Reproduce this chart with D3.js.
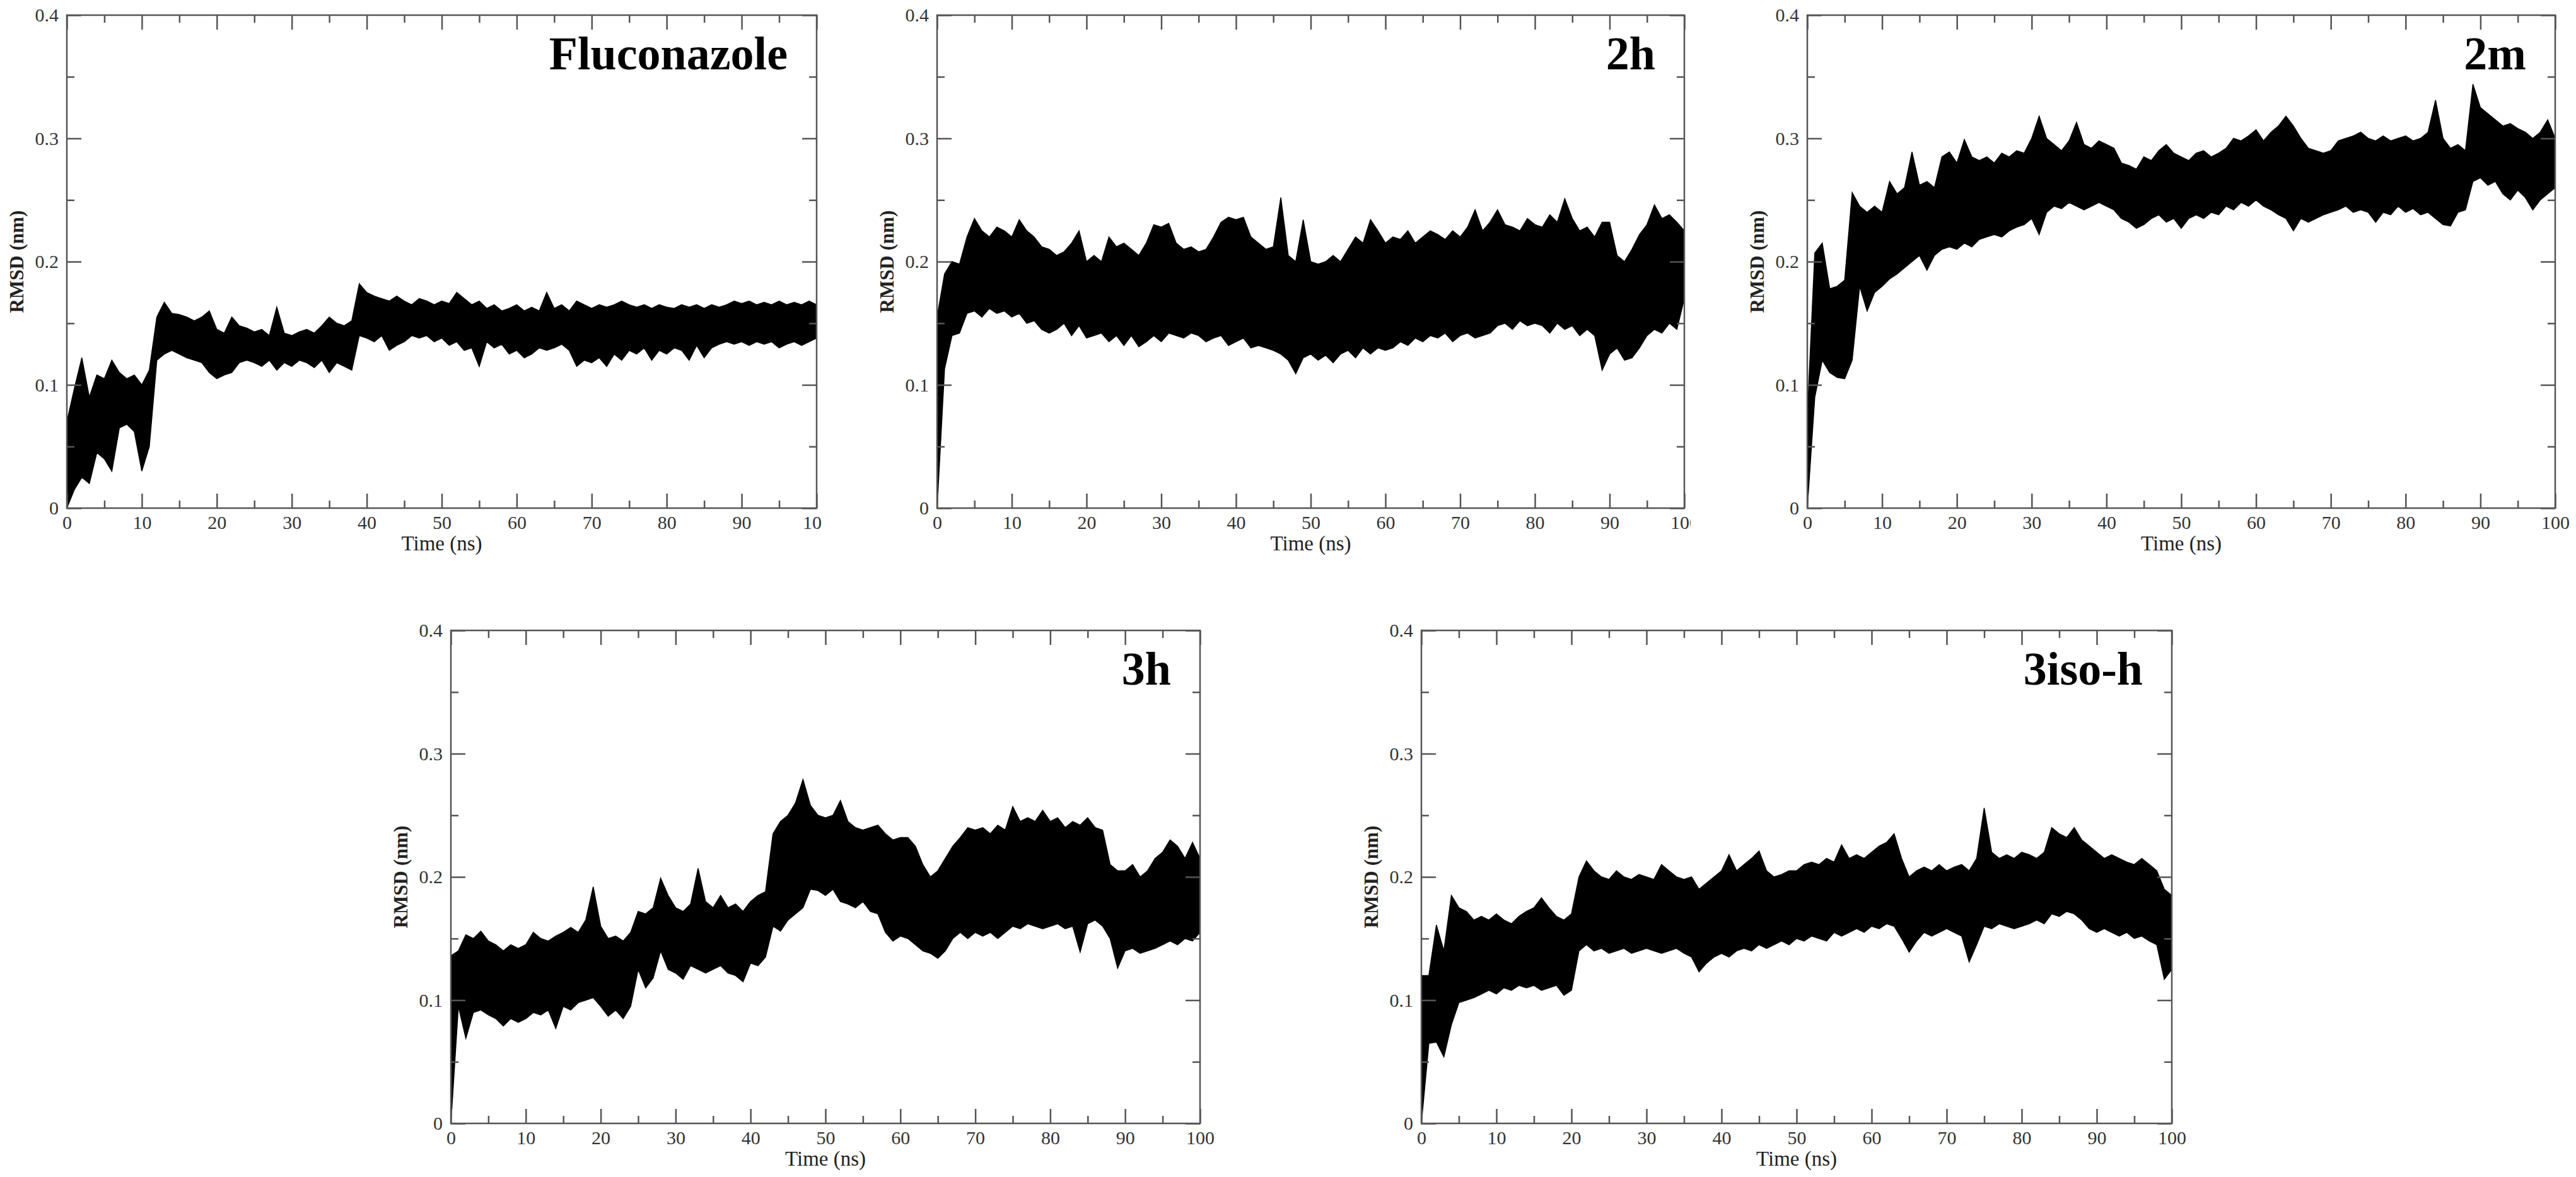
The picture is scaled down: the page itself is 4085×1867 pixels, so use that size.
<!DOCTYPE html>
<html lang='en'>
<head>
  <meta charset='UTF-8'>
  <title>RMSD vs Time</title>
  <style>
  body { margin: 0; background: #fff; }
  svg { display: block; }
  .tick line, .frame { stroke: #555; stroke-width: 2.5; }
  .tick text { font-family: 'Liberation Serif', serif; font-size: 30px; fill: #333; }
  .xlabel, .ylabel { font-family: 'Liberation Serif', serif; fill: #222; }
  .xlabel { font-size: 33px; }
  .ylabel { font-size: 31px; font-weight: bold; }
  .title { font-family: 'Liberation Serif', serif; font-size: 74px; font-weight: bold; fill: #000; }
  </style>
  <script src='https://d3js.org/d3.v7.min.js'></script>
</head>
<body>
  <script>

  // envelope of each RMSD trace, one value per ns (t = 0 .. 100)

  var flucLo = [0, 0.015, 0.025, 0.02, 0.045, 0.04, 0.03, 0.065, 0.068, 0.062,
    0.03, 0.05, 0.12, 0.125, 0.128, 0.125, 0.122, 0.12, 0.118, 0.11,
    0.105, 0.108, 0.11, 0.118, 0.12, 0.118, 0.115, 0.12, 0.112, 0.118,
    0.115, 0.12, 0.118, 0.114, 0.12, 0.11, 0.118, 0.115, 0.112, 0.14,
    0.138, 0.135, 0.14, 0.128, 0.132, 0.135, 0.14, 0.138, 0.14, 0.135,
    0.138, 0.132, 0.135, 0.128, 0.13, 0.115, 0.135, 0.13, 0.133, 0.125,
    0.128, 0.122, 0.125, 0.13, 0.128, 0.13, 0.133, 0.128, 0.115, 0.12,
    0.118, 0.122, 0.115, 0.125, 0.12, 0.128, 0.125, 0.13, 0.12, 0.128,
    0.125, 0.13, 0.128, 0.12, 0.132, 0.122, 0.13, 0.133, 0.135, 0.133,
    0.135, 0.132, 0.135, 0.133, 0.135, 0.13, 0.133, 0.135, 0.132, 0.135, 0.138];
  var flucHi = [0.07, 0.097, 0.122, 0.09, 0.108, 0.105, 0.12, 0.11, 0.105, 0.108,
    0.1, 0.112, 0.155, 0.167, 0.158, 0.157, 0.155, 0.152, 0.155, 0.16,
    0.145, 0.142, 0.155, 0.148, 0.146, 0.143, 0.145, 0.14, 0.163, 0.142,
    0.14, 0.143, 0.145, 0.142, 0.148, 0.155, 0.15, 0.148, 0.152, 0.182,
    0.175, 0.172, 0.17, 0.168, 0.172, 0.168, 0.165, 0.17, 0.168, 0.165,
    0.168, 0.166, 0.175, 0.17, 0.165, 0.168, 0.162, 0.165, 0.16, 0.162,
    0.165, 0.16, 0.163, 0.16, 0.175, 0.162, 0.165, 0.16, 0.168, 0.165,
    0.162, 0.165, 0.163, 0.165, 0.168, 0.165, 0.163, 0.165, 0.162, 0.165,
    0.163, 0.162, 0.165, 0.163, 0.165, 0.162, 0.165, 0.163, 0.165, 0.168,
    0.166, 0.168, 0.165, 0.167, 0.165, 0.168, 0.165, 0.167, 0.165, 0.168, 0.165];

  var c2hLo = [0, 0.113, 0.14, 0.142, 0.158, 0.16, 0.155, 0.162, 0.158, 0.16,
    0.155, 0.158, 0.15, 0.152, 0.145, 0.142, 0.145, 0.15, 0.14, 0.148,
    0.138, 0.14, 0.142, 0.135, 0.14, 0.132, 0.14, 0.131, 0.135, 0.14,
    0.135, 0.142, 0.14, 0.138, 0.142, 0.14, 0.135, 0.138, 0.14, 0.132,
    0.135, 0.138, 0.13, 0.132, 0.13, 0.128, 0.125, 0.12, 0.109, 0.122,
    0.125, 0.12, 0.124, 0.118, 0.125, 0.128, 0.122, 0.13, 0.125, 0.13,
    0.128, 0.13, 0.135, 0.132, 0.138, 0.135, 0.14, 0.138, 0.142, 0.135,
    0.14, 0.142, 0.138, 0.14, 0.142, 0.148, 0.15, 0.145, 0.152, 0.148,
    0.15, 0.148, 0.142, 0.15, 0.145, 0.148, 0.14, 0.145, 0.14, 0.112,
    0.125, 0.13, 0.12, 0.122, 0.13, 0.14, 0.145, 0.142, 0.15, 0.145, 0.17];
  var c2hHi = [0.155, 0.19, 0.2, 0.198, 0.22, 0.235, 0.225, 0.22, 0.228, 0.225,
    0.22, 0.234, 0.225, 0.22, 0.212, 0.21, 0.205, 0.208, 0.215, 0.225,
    0.2, 0.205, 0.2, 0.22, 0.212, 0.215, 0.21, 0.205, 0.215, 0.23,
    0.228, 0.231, 0.215, 0.21, 0.212, 0.208, 0.21, 0.22, 0.232, 0.236,
    0.234, 0.236, 0.22, 0.215, 0.21, 0.212, 0.252, 0.205, 0.2, 0.234,
    0.2, 0.198, 0.2, 0.205, 0.2, 0.21, 0.22, 0.215, 0.234, 0.225,
    0.215, 0.22, 0.218, 0.225, 0.215, 0.22, 0.225, 0.222, 0.218, 0.225,
    0.22, 0.228, 0.242, 0.225, 0.232, 0.242, 0.23, 0.228, 0.225, 0.235,
    0.23, 0.228, 0.238, 0.232, 0.251, 0.235, 0.225, 0.228, 0.22, 0.232,
    0.232, 0.205, 0.2, 0.21, 0.222, 0.23, 0.246, 0.235, 0.238, 0.232, 0.225];

  var c2mLo = [0, 0.09, 0.12, 0.11, 0.106, 0.105, 0.12, 0.18, 0.16, 0.175,
    0.18, 0.186, 0.19, 0.195, 0.2, 0.205, 0.193, 0.205, 0.21, 0.212,
    0.21, 0.215, 0.212, 0.218, 0.22, 0.222, 0.22, 0.225, 0.228, 0.23,
    0.235, 0.222, 0.24, 0.245, 0.243, 0.248, 0.245, 0.242, 0.245, 0.248,
    0.245, 0.242, 0.235, 0.232, 0.227, 0.23, 0.235, 0.238, 0.232, 0.235,
    0.227, 0.235, 0.238, 0.235, 0.24, 0.238, 0.245, 0.242, 0.248, 0.245,
    0.25, 0.245, 0.242, 0.238, 0.235, 0.225, 0.235, 0.232, 0.235, 0.238,
    0.24, 0.242, 0.245, 0.24, 0.242, 0.24, 0.232, 0.24, 0.238, 0.245,
    0.24, 0.243, 0.238, 0.24, 0.235, 0.23, 0.229, 0.24, 0.242, 0.265,
    0.268, 0.262, 0.265, 0.255, 0.25, 0.258, 0.252, 0.242, 0.25, 0.255, 0.26];
  var c2mHi = [0.074, 0.207, 0.215, 0.178, 0.18, 0.185, 0.256, 0.245, 0.24, 0.245,
    0.24, 0.265, 0.255, 0.26, 0.289, 0.262, 0.265, 0.26, 0.285, 0.289,
    0.28, 0.299, 0.285, 0.282, 0.285, 0.28, 0.288, 0.285, 0.29, 0.288,
    0.3, 0.318, 0.3, 0.295, 0.29, 0.298, 0.313, 0.295, 0.292, 0.298,
    0.295, 0.292, 0.28, 0.278, 0.275, 0.285, 0.282, 0.29, 0.295, 0.288,
    0.285, 0.282, 0.288, 0.29, 0.285, 0.288, 0.292, 0.3, 0.298, 0.302,
    0.307, 0.298, 0.305, 0.31, 0.318, 0.31, 0.3, 0.292, 0.29, 0.288,
    0.29, 0.298, 0.3, 0.302, 0.305, 0.3, 0.298, 0.302, 0.298, 0.3,
    0.302, 0.298, 0.3, 0.305, 0.331, 0.3, 0.292, 0.295, 0.29, 0.344,
    0.325, 0.32, 0.315, 0.31, 0.312, 0.308, 0.305, 0.3, 0.305, 0.315, 0.3];

  var c3hLo = [0, 0.095, 0.069, 0.09, 0.092, 0.088, 0.085, 0.079, 0.085, 0.082,
    0.085, 0.09, 0.088, 0.092, 0.077, 0.095, 0.092, 0.098, 0.1, 0.102,
    0.095, 0.087, 0.092, 0.085, 0.095, 0.125, 0.11, 0.118, 0.14, 0.125,
    0.122, 0.117, 0.128, 0.125, 0.122, 0.125, 0.128, 0.122, 0.12, 0.115,
    0.13, 0.128, 0.135, 0.16, 0.156, 0.165, 0.17, 0.175, 0.19, 0.189,
    0.185, 0.19, 0.18, 0.178, 0.175, 0.18, 0.172, 0.17, 0.155, 0.148,
    0.152, 0.15, 0.145, 0.14, 0.138, 0.134, 0.14, 0.15, 0.155, 0.15,
    0.155, 0.152, 0.155, 0.15, 0.155, 0.16, 0.158, 0.162, 0.16, 0.158,
    0.16, 0.162, 0.158, 0.16, 0.139, 0.162, 0.165, 0.16, 0.15, 0.126,
    0.14, 0.142, 0.138, 0.14, 0.142, 0.145, 0.148, 0.145, 0.15, 0.148, 0.155];
  var c3hHi = [0.136, 0.14, 0.153, 0.15, 0.156, 0.148, 0.145, 0.14, 0.145, 0.142,
    0.145, 0.155, 0.15, 0.148, 0.152, 0.155, 0.159, 0.155, 0.165, 0.192,
    0.16, 0.15, 0.152, 0.148, 0.155, 0.172, 0.17, 0.175, 0.199, 0.185,
    0.175, 0.172, 0.178, 0.207, 0.18, 0.175, 0.185, 0.175, 0.178, 0.172,
    0.18, 0.185, 0.188, 0.235, 0.245, 0.25, 0.26, 0.279, 0.258, 0.25,
    0.248, 0.25, 0.262, 0.245, 0.24, 0.238, 0.24, 0.242, 0.235, 0.23,
    0.232, 0.232, 0.225, 0.21, 0.2, 0.205, 0.215, 0.225, 0.232, 0.24,
    0.238, 0.24, 0.235, 0.242, 0.238, 0.257, 0.245, 0.248, 0.245, 0.254,
    0.245, 0.248, 0.24, 0.245, 0.242, 0.248, 0.24, 0.238, 0.21, 0.205,
    0.205, 0.21, 0.2, 0.205, 0.215, 0.22, 0.23, 0.225, 0.215, 0.228, 0.215];

  var c3isoLo = [0, 0.065, 0.066, 0.054, 0.08, 0.098, 0.1, 0.102, 0.105, 0.108,
    0.105, 0.11, 0.108, 0.112, 0.11, 0.112, 0.108, 0.11, 0.112, 0.104,
    0.108, 0.14, 0.145, 0.14, 0.142, 0.138, 0.14, 0.142, 0.138, 0.14,
    0.142, 0.14, 0.138, 0.14, 0.142, 0.138, 0.135, 0.123, 0.13, 0.135,
    0.138, 0.135, 0.14, 0.142, 0.14, 0.145, 0.142, 0.145, 0.148, 0.145,
    0.15, 0.148, 0.152, 0.15, 0.148, 0.155, 0.152, 0.155, 0.158, 0.155,
    0.16, 0.158, 0.162, 0.16, 0.15, 0.139, 0.148, 0.155, 0.152, 0.155,
    0.158, 0.155, 0.152, 0.131, 0.145, 0.16, 0.158, 0.162, 0.16, 0.158,
    0.16, 0.162, 0.165, 0.162, 0.17, 0.168, 0.172, 0.17, 0.165, 0.158,
    0.155, 0.158, 0.155, 0.152, 0.155, 0.15, 0.152, 0.148, 0.145, 0.117, 0.125];
  var c3isoHi = [0.12, 0.12, 0.161, 0.14, 0.185, 0.175, 0.172, 0.165, 0.168, 0.165,
    0.17, 0.165, 0.162, 0.168, 0.172, 0.175, 0.183, 0.175, 0.168, 0.165,
    0.17, 0.2, 0.213, 0.205, 0.2, 0.198, 0.205, 0.2, 0.198, 0.202,
    0.2, 0.198, 0.21, 0.205, 0.2, 0.198, 0.2, 0.19, 0.195, 0.2,
    0.205, 0.218, 0.205, 0.21, 0.215, 0.221, 0.205, 0.2, 0.202, 0.205,
    0.205, 0.21, 0.212, 0.21, 0.215, 0.212, 0.226, 0.215, 0.218, 0.215,
    0.22, 0.225, 0.228, 0.235, 0.215, 0.2, 0.205, 0.208, 0.205, 0.21,
    0.205, 0.208, 0.21, 0.205, 0.215, 0.256, 0.22, 0.215, 0.218, 0.215,
    0.22, 0.218, 0.215, 0.22, 0.24, 0.235, 0.232, 0.24, 0.23, 0.225,
    0.22, 0.215, 0.218, 0.215, 0.212, 0.21, 0.215, 0.21, 0.205, 0.19, 0.185];

  var names = ['Fluconazole', '2h', '2m', '3h', '3iso-h'];
  var xMajor = [0, 10, 20, 30, 40, 50, 60, 70, 80, 90, 100];
  var xMinor = [5, 15, 25, 35, 45, 55, 65, 75, 85, 95];
  var yMajor = [0, 0.1, 0.2, 0.3, 0.4];
  var yMinor = [0.05, 0.15, 0.25, 0.35];

  // panel boxes in page pixels (clip = where the original panel image was cut)

  var panels = [
    { name: names[0], lo: flucLo, hi: flucHi, left: 106, right: 1295, top: 24, bottom: 806, clip: 1303 },
    { name: names[1], lo: c2hLo, hi: c2hHi, left: 1486, right: 2671, top: 24, bottom: 806, clip: 2681 },
    { name: names[2], lo: c2mLo, hi: c2mHi, left: 2866, right: 4052, top: 24, bottom: 806, clip: 4085 },
    { name: names[3], lo: c3hLo, hi: c3hHi, left: 715, right: 1903, top: 1000, bottom: 1782, clip: 2100 },
    { name: names[4], lo: c3isoLo, hi: c3isoHi, left: 2254, right: 3444, top: 1000, bottom: 1782, clip: 3700 }
  ];

  var svgWidth = 4085;
  var svgHeight = 1867;

  var svg = d3.select('body').append('svg')
    .attr('width', svgWidth)
    .attr('height', svgHeight);

  svg.append('rect').attr('width', svgWidth).attr('height', svgHeight).attr('fill', '#fff');

  var yFormat = function (d) { return d === 0 ? '0' : d.toFixed(1); };

  panels.forEach(function (p, k) {
    var width = p.right - p.left;
    var height = p.bottom - p.top;

    svg.append('clipPath').attr('id', 'clip' + k)
      .append('rect')
      .attr('x', 0).attr('y', 0)
      .attr('width', p.clip).attr('height', svgHeight);

    var outer = svg.append('g').attr('clip-path', 'url(#clip' + k + ')');
    var g = outer.append('g').attr('transform', 'translate(' + p.left + ',' + p.top + ')');

    var x = d3.scaleLinear().domain([0, 100]).range([0, width]);
    var y = d3.scaleLinear().domain([0, 0.4]).range([height, 0]);

    var rows = p.lo.map(function (v, i) { return { t: i, lo: v, hi: p.hi[i] }; });

    // trace band

    var area = d3.area()
      .x(function (d) { return x(d.t); })
      .y0(function (d) { return y(d.lo); })
      .y1(function (d) { return y(d.hi); });

    g.append('path')
      .datum(rows)
      .attr('d', area)
      .attr('fill', '#000')
      .attr('stroke', '#000')
      .attr('stroke-width', 1.5)
      .attr('stroke-linejoin', 'miter');

    // axes, ticks pointing inward on all four sides

    g.append('g')
      .attr('transform', 'translate(0,' + height + ')')
      .call(d3.axisBottom(x).tickValues(xMajor).tickSize(-23).tickPadding(12).tickFormat(d3.format('d')));
    g.append('g')
      .attr('transform', 'translate(0,' + height + ')')
      .call(d3.axisBottom(x).tickValues(xMinor).tickSize(-12).tickFormat(''));
    g.append('g')
      .call(d3.axisTop(x).tickValues(xMajor).tickSize(-23).tickFormat(''));
    g.append('g')
      .call(d3.axisTop(x).tickValues(xMinor).tickSize(-12).tickFormat(''));

    g.append('g')
      .call(d3.axisLeft(y).tickValues(yMajor).tickSize(-23).tickPadding(13).tickFormat(yFormat));
    g.append('g')
      .call(d3.axisLeft(y).tickValues(yMinor).tickSize(-12).tickFormat(''));
    g.append('g')
      .attr('transform', 'translate(' + width + ',0)')
      .call(d3.axisRight(y).tickValues(yMajor).tickSize(-23).tickFormat(''));
    g.append('g')
      .attr('transform', 'translate(' + width + ',0)')
      .call(d3.axisRight(y).tickValues(yMinor).tickSize(-12).tickFormat(''));

    g.selectAll('.domain').remove();

    g.append('rect')
      .attr('class', 'frame')
      .attr('width', width)
      .attr('height', height)
      .attr('fill', 'none');

    // labels

    g.append('text')
      .attr('class', 'xlabel')
      .attr('text-anchor', 'middle')
      .attr('x', width / 2)
      .attr('y', height + 67)
      .text('Time (ns)');

    g.append('text')
      .attr('class', 'ylabel')
      .attr('text-anchor', 'middle')
      .attr('transform', 'translate(-69,' + (height / 2) + ') rotate(-90)')
      .text('RMSD (nm)');

    g.append('text')
      .attr('class', 'title')
      .attr('text-anchor', 'end')
      .attr('x', width - 46)
      .attr('y', 86)
      .text(p.name);
  });
  </script>
</body>
</html>
